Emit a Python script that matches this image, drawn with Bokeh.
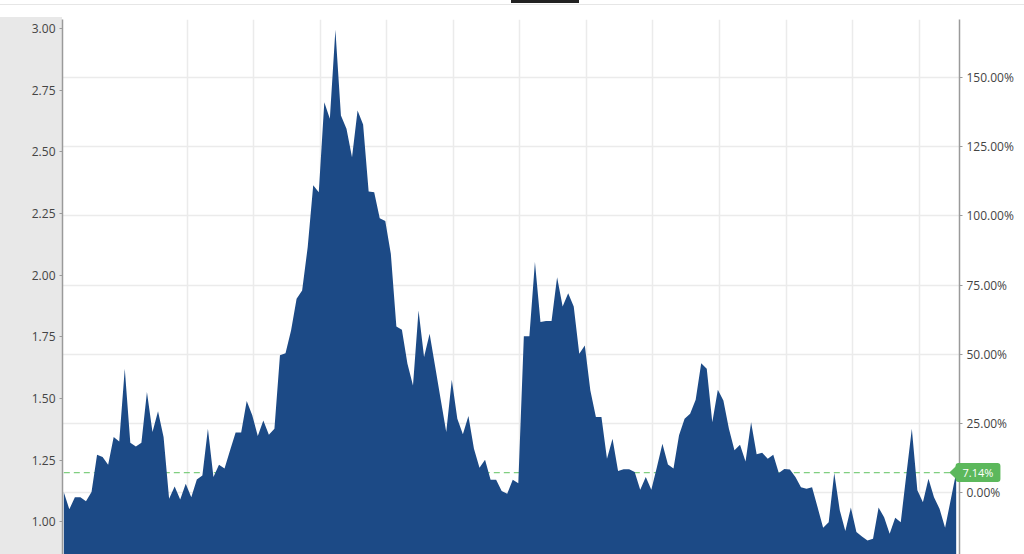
from bokeh.plotting import figure
from bokeh.models import (Range1d, LinearAxis, FixedTicker, PrintfTickFormatter, Grid,
                          PolyAnnotation, Label, InlineStyleSheet)
from bokeh.embed import file_html
from bokeh.resources import INLINE

# ---- data ----
values = [
    1.120, 1.051, 1.100, 1.100, 1.084, 1.121, 1.272, 1.263, 1.232, 1.344,
    1.326, 1.621, 1.321, 1.306, 1.321, 1.526, 1.364, 1.448, 1.344, 1.094,
    1.144, 1.091, 1.155, 1.100, 1.172, 1.188, 1.378, 1.182, 1.232, 1.216,
    1.290, 1.362, 1.362, 1.490, 1.432, 1.348, 1.411, 1.353, 1.378, 1.675,
    1.684, 1.776, 1.904, 1.938, 2.113, 2.364, 2.336, 2.701, 2.634, 2.994,
    2.647, 2.593, 2.478, 2.667, 2.611, 2.339, 2.336, 2.231, 2.219, 2.087,
    1.792, 1.779, 1.641, 1.553, 1.857, 1.668, 1.763, 1.630, 1.496, 1.364,
    1.576, 1.418, 1.355, 1.429, 1.297, 1.220, 1.252, 1.171, 1.171, 1.125,
    1.114, 1.171, 1.157, 1.752, 1.752, 2.053, 1.810, 1.814, 1.814, 1.992,
    1.873, 1.927, 1.873, 1.682, 1.715, 1.533, 1.425, 1.425, 1.256, 1.337,
    1.206, 1.213, 1.213, 1.202, 1.130, 1.182, 1.130, 1.222, 1.317, 1.233,
    1.216, 1.351, 1.418, 1.438, 1.495, 1.643, 1.621, 1.404, 1.536, 1.492,
    1.378, 1.290, 1.313, 1.245, 1.404, 1.274, 1.280, 1.256, 1.272, 1.198,
    1.214, 1.212, 1.182, 1.141, 1.134, 1.141, 1.059, 0.976, 0.999, 1.198,
    1.047, 0.963, 1.058, 0.959, 0.941, 0.925, 0.932, 1.058, 1.019, 0.952,
    1.017, 0.999, 1.190, 1.378, 1.128, 1.080, 1.175, 1.100, 1.053, 0.976,
    1.088, 1.200,
]
base_price = 1.12
left_ticks = [1.00, 1.25, 1.50, 1.75, 2.00, 2.25, 2.50, 2.75, 3.00]
pct_ticks = [0, 25, 50, 75, 100, 125, 150]
x_grid_ticks = [22.3 + 12 * k for k in range(12)]

x = list(range(len(values)))
last = values[-1]
last_pct = (last / base_price - 1) * 100

# ---- figure ----
x_lo, x_hi = -0.235, 161.6
y_lo, y_hi = 0.868, 3.036
css = InlineStyleSheet(css="""
:host {
  background:
    linear-gradient(#222222, #222222) no-repeat 511px 0px / 68px 3px,
    linear-gradient(#e6e6e6, #e6e6e6) no-repeat 0px 4px / 100% 1px,
    linear-gradient(#e8e8e8, #e8e8e8) no-repeat 0px 17px / 62px calc(100% - 17px);
}
""")

p = figure(width=1024, height=554, output_backend="svg", toolbar_location=None,
           x_range=Range1d(x_lo, x_hi), y_range=Range1d(y_lo, y_hi),
           x_axis_location=None,
           min_border_left=62, min_border_right=65, min_border_top=17, min_border_bottom=0)
p.stylesheets = [css]
p.border_fill_color = None
p.background_fill_color = "white"
p.outline_line_color = None
p.xgrid.visible = False
p.ygrid.visible = False

p.extra_y_ranges = {"pct": Range1d((y_lo / base_price - 1) * 100, (y_hi / base_price - 1) * 100)}

grid_color = "#ebebeb"
p.add_layout(Grid(dimension=0, ticker=FixedTicker(ticks=x_grid_ticks),
                  grid_line_color=grid_color, grid_line_width=1.5))
p.add_layout(Grid(dimension=1, ticker=FixedTicker(ticks=pct_ticks), y_range_name="pct",
                  grid_line_color=grid_color, grid_line_width=1.5))

# left axis
ax = p.yaxis[0]
ax.ticker = FixedTicker(ticks=left_ticks)
ax.formatter = PrintfTickFormatter(format="%.2f")
# right axis
rax = LinearAxis(y_range_name="pct", ticker=FixedTicker(ticks=pct_ticks),
                 formatter=PrintfTickFormatter(format="%.2f%%"))
p.add_layout(rax, "right")
for a in (ax, rax):
    a.axis_line_color = "#9a9a9a"
    a.axis_line_width = 1.5
    a.major_tick_line_color = "#9a9a9a"
    a.major_tick_in = 0
    a.major_tick_out = 3
    a.minor_tick_line_color = None
    a.major_label_text_font = "Open Sans"
    a.major_label_text_font_size = "12px"
    a.major_label_text_color = "#444444"
    a.major_label_standoff = 4

# reference (last value) dashed line, behind the area
p.line(x=[x[0], x[-1]], y=[last, last], line_color="#80cf80", line_width=1.2, line_dash="6 4")

# area
p.varea(x=x, y1=0, y2=values, fill_color="#1c4a86")

# last-change tag
tag_green = "#5cb85c"
px_per_unit = (959 - 62) / (x_hi - x_lo)
h = 9.5 * (y_hi - y_lo) / 535.0
tip = x_hi - 10 / px_per_unit
p.add_layout(PolyAnnotation(xs=[tip, x_hi, x_hi], ys=[last, last + h, last - h],
                            fill_color=tag_green, fill_alpha=1.0, line_color=tag_green, line_width=1))
# the box with the text lives in the "above" panel, so it is not clipped to the frame
box_x = x_hi + (977.5 - 959) / px_per_unit
p.add_layout(Label(x=box_x, y=last, x_units="data", y_units="data",
                   text="%.2f%%" % last_pct, text_align="center", text_baseline="middle",
                   text_color="white", text_font="Open Sans", text_font_size="11px",
                   background_fill_color=tag_green, border_radius=3, padding=(7, 2)), "above")

open("out.html", "w").write(file_html(p, INLINE))
